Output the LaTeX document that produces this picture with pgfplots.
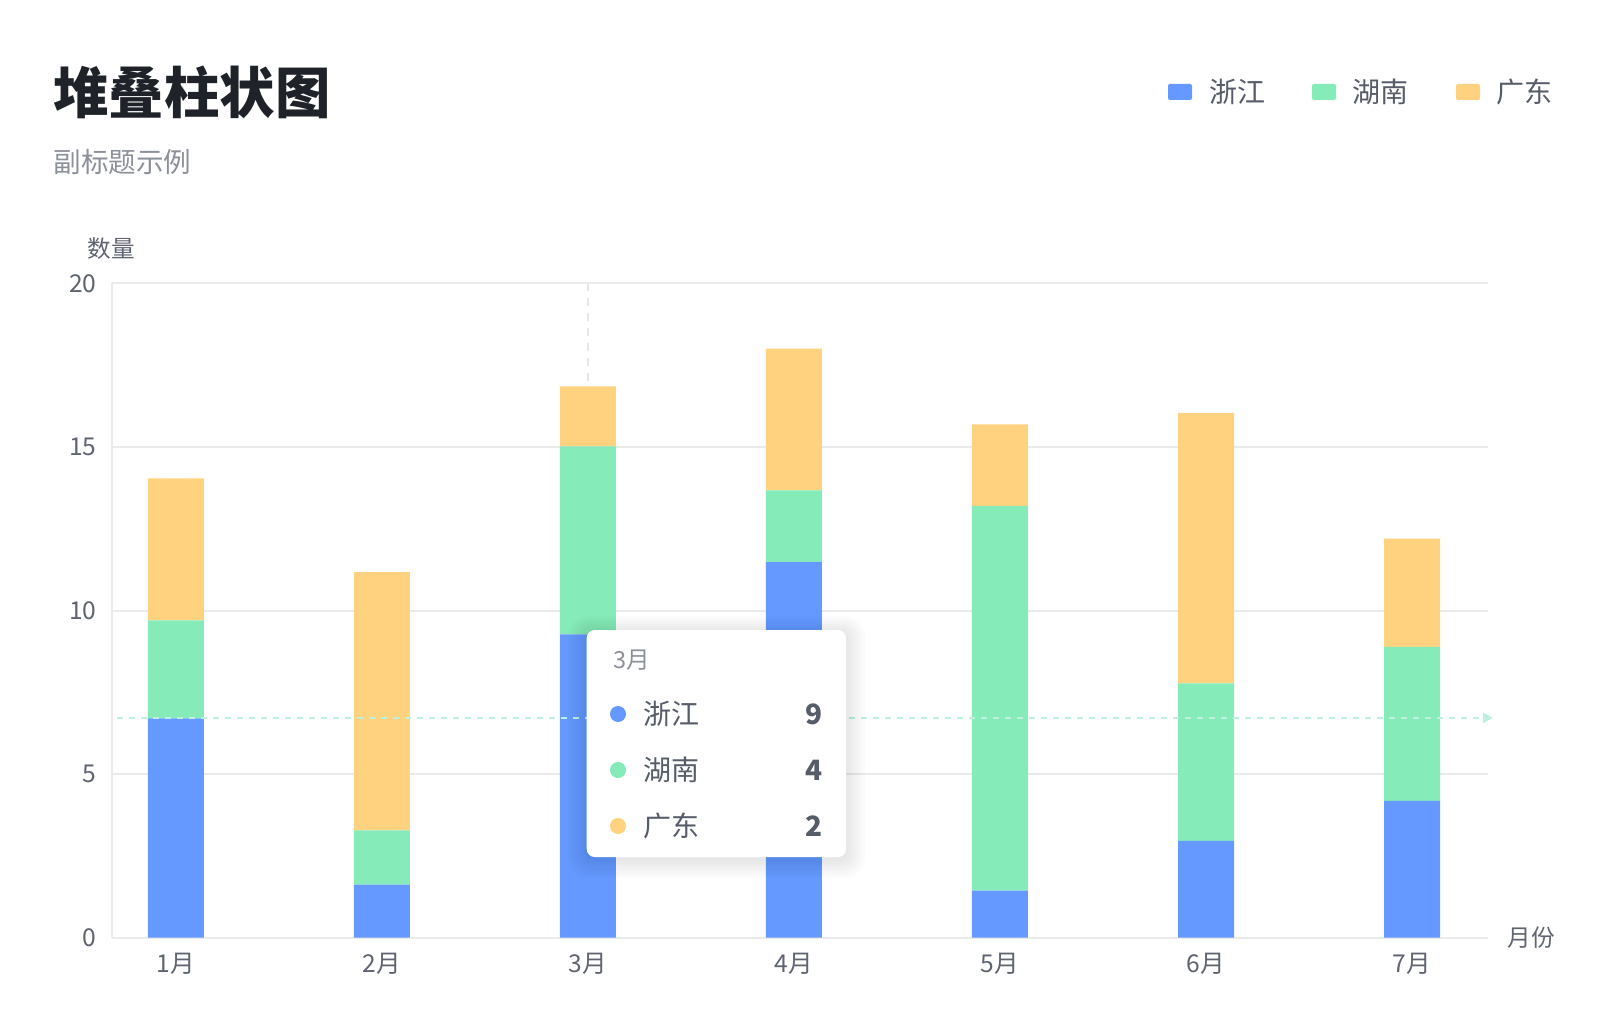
\documentclass[border=0pt]{standalone}
\usepackage{fontspec}
\setmainfont{Noto Sans CJK SC}
\usepackage{pgfplots}
\pgfplotsset{compat=1.18}
\usetikzlibrary{arrows.meta}
\definecolor{cblue}{HTML}{6699FF}
\definecolor{cgreen}{HTML}{85EBB9}
\definecolor{corange}{HTML}{FFD280}
\definecolor{gridgray}{HTML}{EBEBEB}
\definecolor{ticktext}{HTML}{5F6470}
\definecolor{titletext}{HTML}{1F2329}
\definecolor{subtext}{HTML}{8C9099}
\definecolor{legtext}{HTML}{565C68}
\definecolor{cross}{HTML}{BDF0DF}
\definecolor{crossv}{HTML}{E6E6E6}
\begin{document}
\begin{tikzpicture}
\path[use as bounding box] (0,0) rectangle (800pt,-513pt);
% title
\node[anchor=west,inner sep=0,text=titletext] at (26.5pt,-46pt) {\fontsize{27.7}{30}\selectfont\bfseries 堆叠柱状图};
\node[anchor=west,inner sep=0,text=subtext] at (26.5pt,-81pt) {\fontsize{13.8}{16}\selectfont 副标题示例};
% legend
\fill[cblue,rounded corners=1pt] (584pt,-42pt) rectangle (596pt,-50pt);
\node[anchor=west,inner sep=0,text=legtext] at (604.5pt,-45.75pt) {\fontsize{14}{16}\selectfont 浙江};
\fill[cgreen,rounded corners=1pt] (656pt,-42pt) rectangle (668pt,-50pt);
\node[anchor=west,inner sep=0,text=legtext] at (676pt,-45.75pt) {\fontsize{14}{16}\selectfont 湖南};
\fill[corange,rounded corners=1pt] (728pt,-42pt) rectangle (740pt,-50pt);
\node[anchor=west,inner sep=0,text=legtext] at (748pt,-45.75pt) {\fontsize{14}{16}\selectfont 广东};
% axis titles
\node[inner sep=0,text=ticktext] at (55.75pt,-124.5pt) {\fontsize{11.8}{13}\selectfont 数量};
\node[anchor=west,inner sep=0,text=ticktext] at (753.5pt,-469pt) {\fontsize{11.8}{13}\selectfont 月份};
\begin{axis}[
  at={(55.85pt,-468.85pt)}, anchor=south west,
  scale only axis, width=688.15pt, height=327.2pt,
  xmin=-0.312, xmax=6.369, ymin=0, ymax=20,
  clip=false,
  ybar stacked, bar width=28pt,
  xtick={0,1,2,3,4,5,6},
  xticklabels={1月,2月,3月,4月,5月,6月,7月},
  ytick={0,5,10,15,20},
  major tick length=0pt,
  axis x line*=bottom, axis y line*=left,
  axis line style={gridgray,line width=1pt},
  ymajorgrids, grid style={gridgray,line width=1pt},
  tick label style={text=ticktext,font=\fontsize{12.3}{13}\selectfont},
  /pgf/number format/assume math mode=true,
  yticklabel style={xshift=-4pt},
  xticklabel style={yshift=-4pt},
]
\draw[crossv,line width=1pt,dash pattern=on 4pt off 3.5pt] (axis cs:2,20) -- (axis cs:2,16.85);
\draw[cross,line width=1pt,dash pattern=on 3pt off 3pt,-{Triangle[length=5pt,width=5pt]}] (axis cs:-0.286,6.72) -- (axis cs:6.393,6.72);
\addplot+[fill=cblue,draw=none,mark=none] coordinates {(0,6.7) (1,1.62) (2,9.27) (3,11.48) (4,1.44) (5,2.96) (6,4.18)};
\addplot+[fill=cgreen,draw=none,mark=none] coordinates {(0,3.0) (1,1.66) (2,5.75) (3,2.19) (4,11.76) (5,4.81) (6,4.71)};
\addplot+[fill=corange,draw=none,mark=none] coordinates {(0,4.34) (1,7.89) (2,1.83) (3,4.33) (4,2.49) (5,8.27) (6,3.31)};
\end{axis}
% tooltip
\foreach \i in {1,...,8}{
  \fill[black,opacity=0.012,rounded corners=4pt+\i*0.8pt] (293.35pt-\i*1.2pt,-315pt+\i*1.0pt-1pt) rectangle (423pt+\i*1.2pt,-428.5pt-\i*1.2pt-1pt);
}
\fill[white,rounded corners=4pt] (293.35pt,-315pt) rectangle (423pt,-428.5pt);
\node[anchor=west,inner sep=0,text=subtext] at (306.35pt,-330pt) {\fontsize{11.8}{13}\selectfont 3月};
\fill[cblue] (309pt,-357pt) circle (4pt);
\fill[cgreen] (309pt,-385pt) circle (4pt);
\fill[corange] (309pt,-413pt) circle (4pt);
\node[anchor=west,inner sep=0,text=legtext] at (321.5pt,-357pt) {\fontsize{14}{16}\selectfont 浙江};
\node[anchor=west,inner sep=0,text=legtext] at (321.5pt,-385pt) {\fontsize{14}{16}\selectfont 湖南};
\node[anchor=west,inner sep=0,text=legtext] at (321.5pt,-413pt) {\fontsize{14}{16}\selectfont 广东};
\node[anchor=east,inner sep=0,text=legtext] at (411.5pt,-357pt) {\fontsize{14}{16}\selectfont\bfseries 9};
\node[anchor=east,inner sep=0,text=legtext] at (411.5pt,-385pt) {\fontsize{14}{16}\selectfont\bfseries 4};
\node[anchor=east,inner sep=0,text=legtext] at (411.5pt,-413pt) {\fontsize{14}{16}\selectfont\bfseries 2};
\end{tikzpicture}
\end{document}
